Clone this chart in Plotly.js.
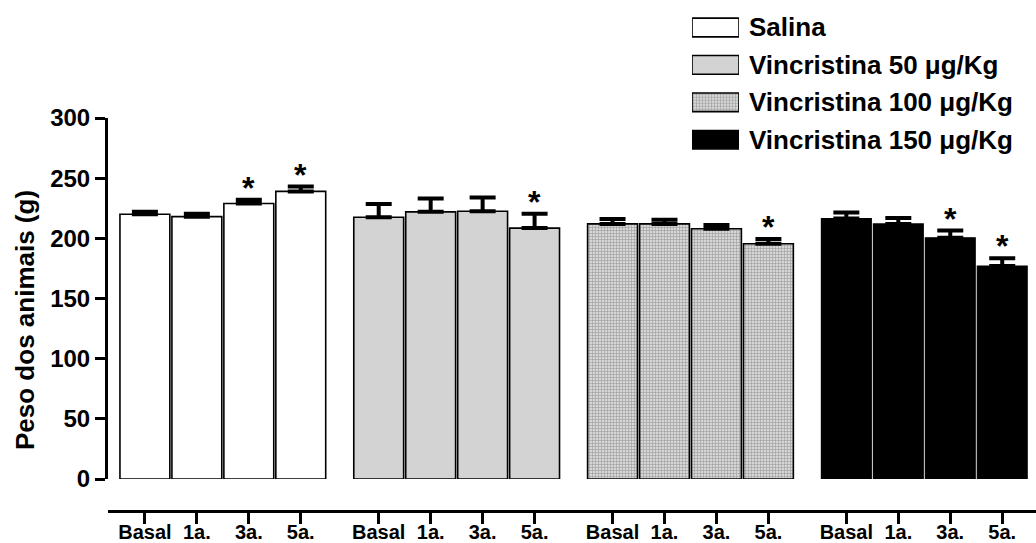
<!DOCTYPE html>
<html>
<head>
<meta charset="utf-8">
<script src="https://cdn.plot.ly/plotly-3.0.1.min.js"></script>
<style>html,body{margin:0;padding:0;background:#fff;}#chart{width:1036px;height:543px;}</style>
</head>
<body>
<div id="chart"></div>
<script>
// ---- data ----
const timepoints = ['Basal', '1a.', '3a.', '5a.'];
const groups = ['Salina', 'Vincristina 50 μg/Kg', 'Vincristina 100 μg/Kg', 'Vincristina 150 μg/Kg'];
const yTitle = 'Peso dos animais (g)';
const salina      = [220, 218, 229, 239];
const salinaErr   = [2, 2.5, 3, 4];
const vinc50      = [217.5, 222, 222.5, 208.5];
const vinc50Err   = [11, 11, 11.5, 12];
const vinc100     = [212, 212, 208, 195.5];
const vinc100Err  = [4, 3.5, 3, 4];
const vinc150     = [216.5, 212, 200.5, 177];
const vinc150Err  = [5, 5, 6, 6.5];
const salinaSig   = [0, 0, 1, 1];
const vinc50Sig   = [0, 0, 0, 1];
const vinc100Sig  = [0, 0, 0, 1];
const vinc150Sig  = [0, 0, 1, 1];
const noErr       = [0, 0, 0, 0];

const values = [salina, vinc50, vinc100, vinc150];
const errs = [salinaErr, vinc50Err, vinc100Err, vinc150Err];
const sigs = [salinaSig, vinc50Sig, vinc100Sig, vinc150Sig];

// ---- styles ----
const FONT = 'Liberation Sans, Arial, Helvetica, sans-serif';
const styles = [
  {color: '#ffffff', line: {color: '#000', width: 1.6}},
  {color: '#d3d3d3', line: {color: '#000', width: 1.6}},
  {color: '#c4c4c4', line: {color: '#000', width: 1.6},
   pattern: {shape: '+', size: 3, solidity: 0.35, fgcolor: '#9a9a9a', bgcolor: '#d6d6d6'}},
  {color: '#000000', line: {color: '#000', width: 1.2}}
];

const GAP = 4.5; // group spacing in bar units
const traces = [];
const annotations = [];
const tickvals = [], ticktext = [];

groups.forEach((g, gi) => {
  const xs = timepoints.map((t, ti) => gi * GAP + ti);
  xs.forEach((x, ti) => { tickvals.push(x); ticktext.push(timepoints[ti]); });
  traces.push({
    type: 'bar', x: xs, y: values[gi], name: g, width: 0.96,
    marker: styles[gi], showlegend: false, hoverinfo: 'skip',
    error_y: {type: 'data', symmetric: false, array: errs[gi], arrayminus: noErr,
              color: '#000', thickness: 4, width: 13},
    xaxis: 'x', yaxis: 'y'
  });
  sigs[gi].forEach((s, ti) => {
    if (s) annotations.push({
      x: xs[ti], y: values[gi][ti] + errs[gi][ti], xref: 'x', yref: 'y',
      text: '<b>*</b>', showarrow: false, yanchor: 'bottom', yshift: -8,
      font: {family: FONT, size: 32, color: '#000'}
    });
  });
  // legend swatch (own small axes so patterns work)
  traces.push({
    type: 'bar', orientation: 'h', x: [1], y: [gi], base: 0, width: 0.5,
    marker: styles[gi], showlegend: false, hoverinfo: 'skip',
    xaxis: 'x2', yaxis: 'y2'
  });
  annotations.push({
    xref: 'paper', yref: 'y2', x: (747 - 108) / 928, y: gi, xanchor: 'left', yanchor: 'middle',
    text: g, showarrow: false, font: {family: FONT, size: 26, color: '#000', weight: 'bold'}
  });
});

const H = 511;
// y-axis title as rotated annotation (centred as in the reference)
annotations.push({
  xref: 'paper', yref: 'paper', x: (25 - 108) / 928, y: (H - 320) / H,
  xanchor: 'center', yanchor: 'middle', textangle: -90, showarrow: false,
  text: yTitle, font: {family: FONT, size: 26, color: '#000', weight: 'bold'}
});

const layout = {
  width: 1036, height: 543,
  margin: {l: 108, r: 0, t: 0, b: 32},
  paper_bgcolor: '#fff', plot_bgcolor: '#fff',
  bargap: 0,
  font: {family: FONT, color: '#000'},
  xaxis: {
    range: [-0.71, 17.15], anchor: 'free', position: 0,
    showline: true, linewidth: 3, linecolor: '#000',
    ticks: 'outside', ticklen: 11, tickwidth: 3, tickcolor: '#000',
    tickmode: 'array', tickvals: tickvals, ticktext: ticktext,
    ticklabelstandoff: -9,
    tickfont: {family: FONT, size: 20, weight: 'bold'},
    showgrid: false, zeroline: false, fixedrange: true
  },
  yaxis: {
    domain: [(H - 479) / H, (H - 118) / H], range: [0, 300], anchor: 'x',
    showline: true, linewidth: 3, linecolor: '#000',
    ticks: 'outside', ticklen: 10, tickwidth: 3, tickcolor: '#000',
    tickvals: [0, 50, 100, 150, 200, 250, 300],
    tickfont: {family: FONT, size: 24, weight: 'bold'},
    showgrid: false, zeroline: false, fixedrange: true
  },
  xaxis2: {domain: [(692 - 108) / 928, (739 - 108) / 928], range: [0, 1], anchor: 'y2',
           visible: false, fixedrange: true},
  yaxis2: {domain: [(H - 158.4) / H, (H - 8.8) / H], range: [3.5, -0.5], anchor: 'x2',
           visible: false, fixedrange: true},
  annotations: annotations,
  showlegend: false
};

Plotly.newPlot('chart', traces, layout, {displayModeBar: false, staticPlot: true});
</script>
</body>
</html>
